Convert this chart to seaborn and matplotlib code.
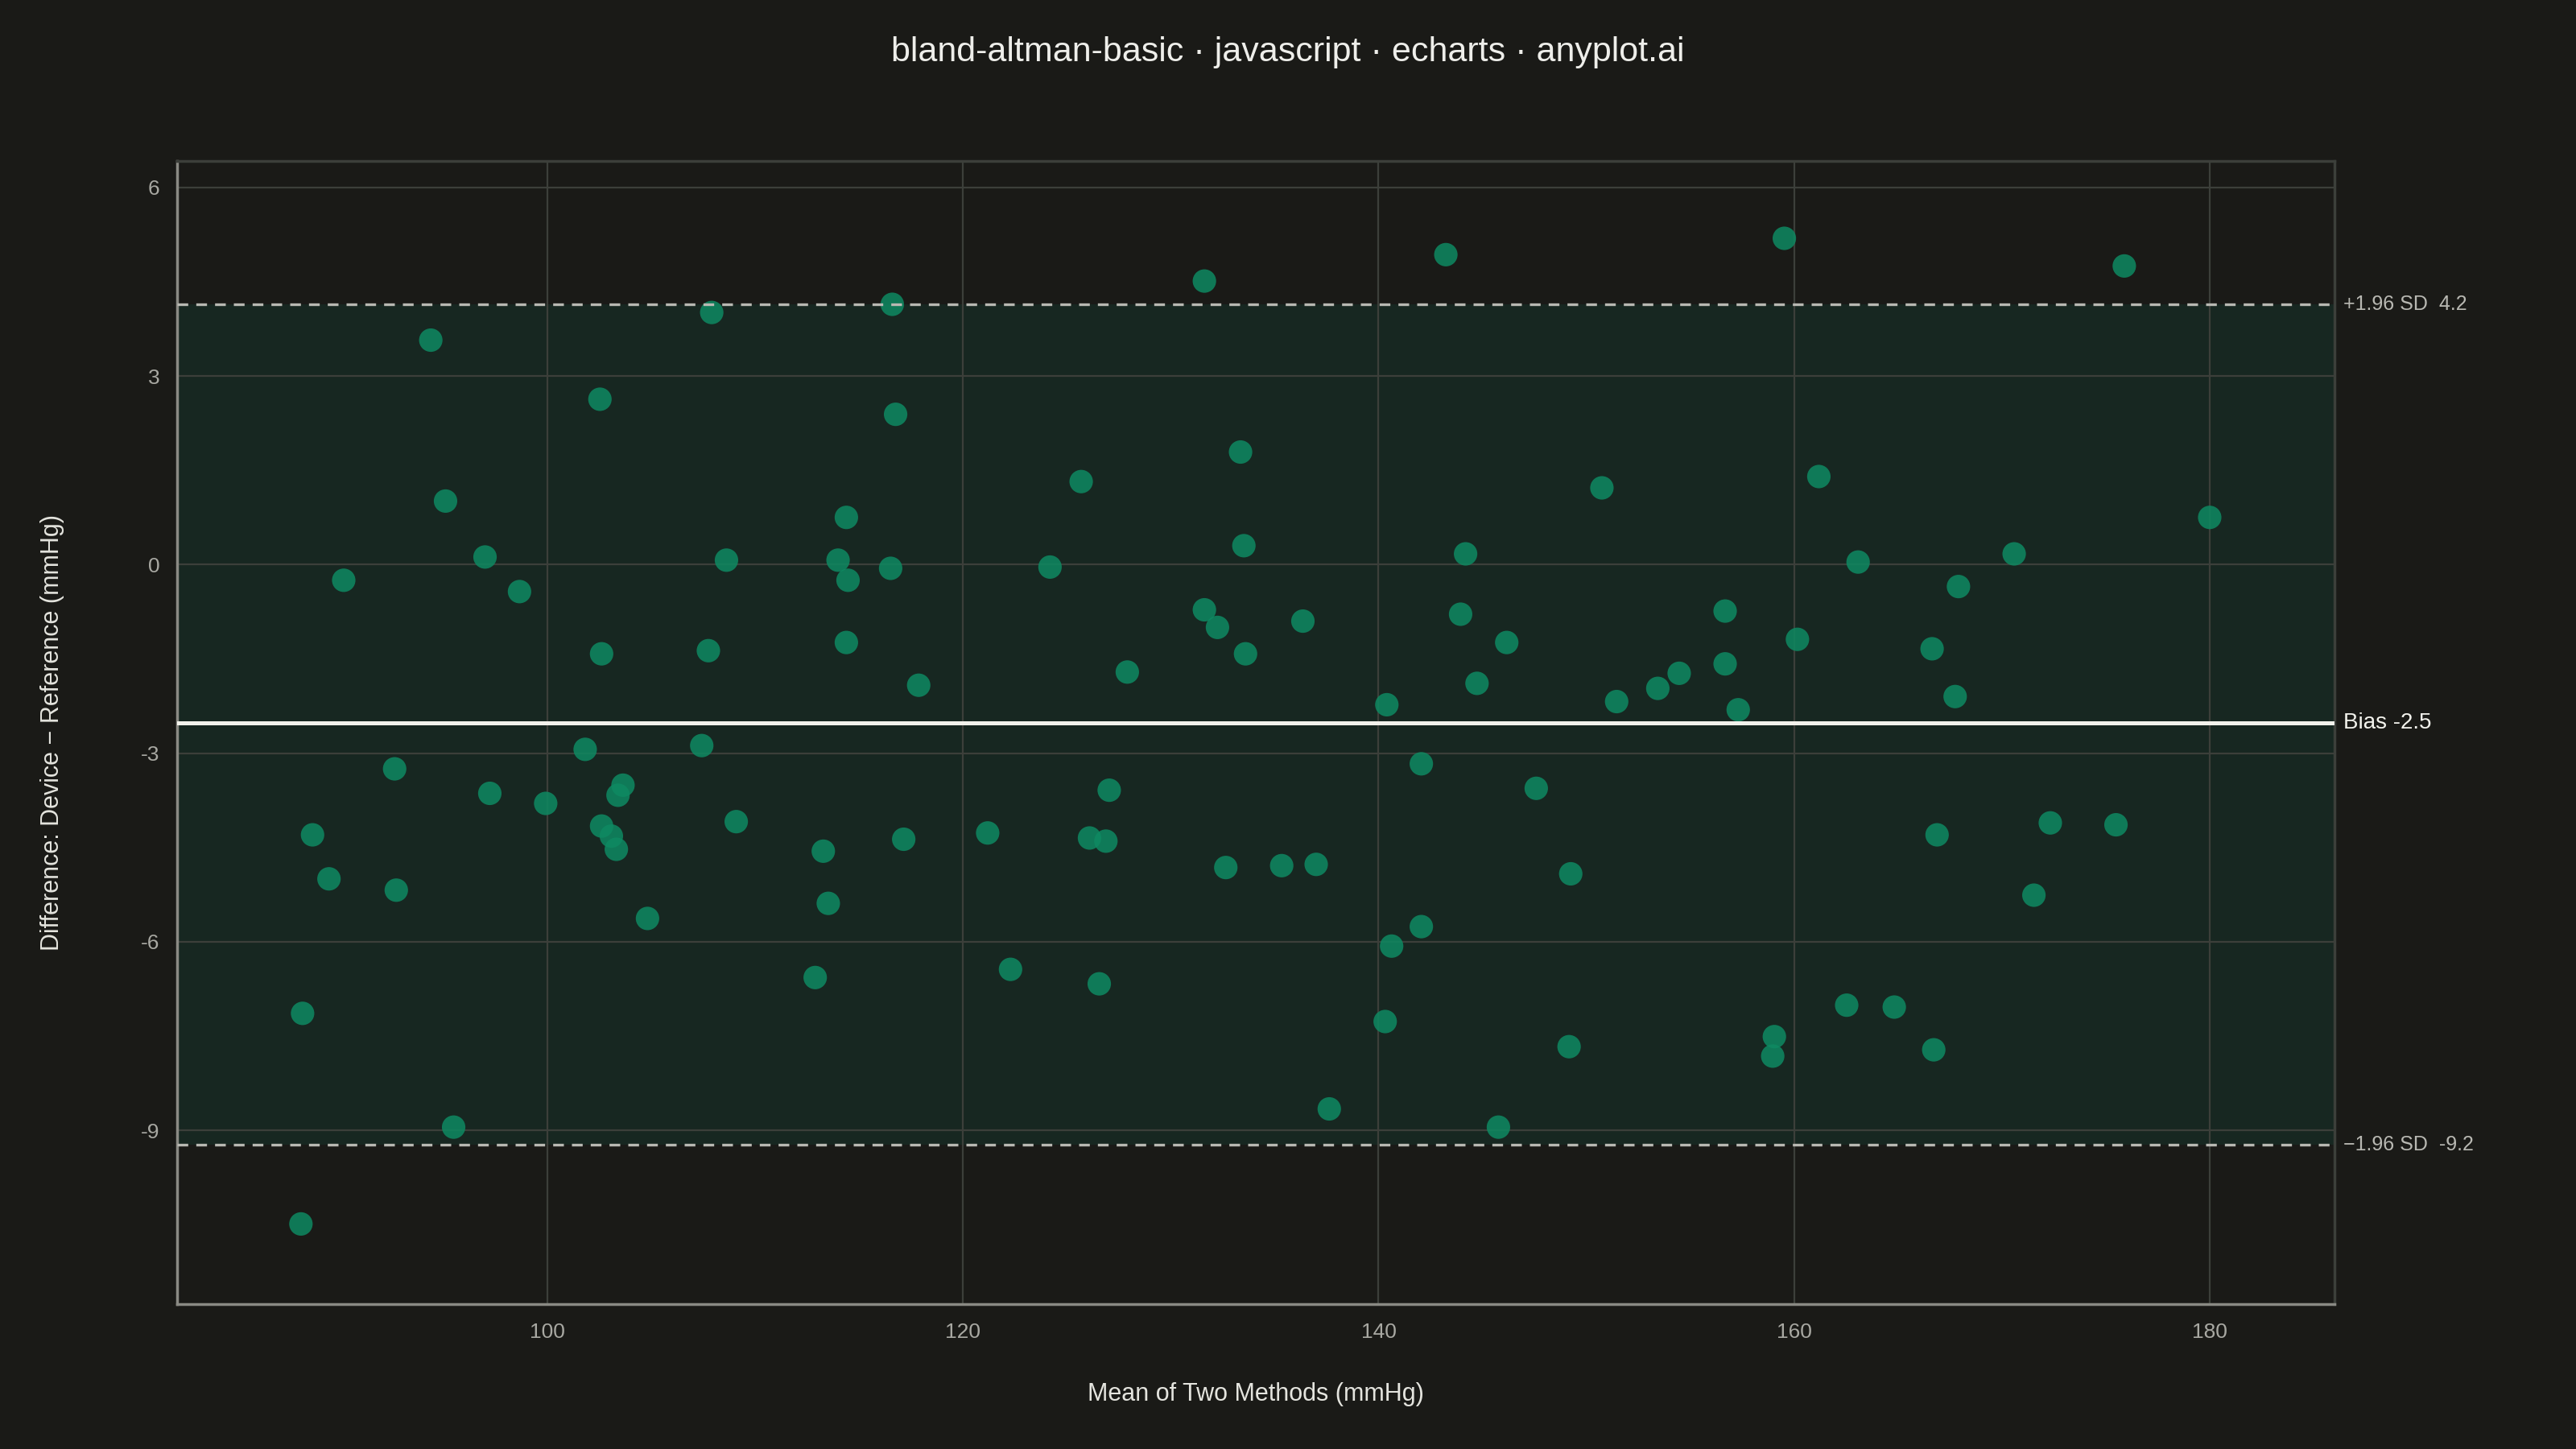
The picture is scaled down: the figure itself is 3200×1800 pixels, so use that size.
import numpy as np
import pandas as pd
import matplotlib
matplotlib.use("Agg")
import matplotlib.pyplot as plt
import seaborn as sns

# mean of both methods (mmHg)
mean_vals = [88.14, 88.22, 88.70, 89.49, 90.20, 92.65, 92.73, 94.39, 95.10, 95.49,
             97.00, 97.23, 98.66, 99.92, 101.82, 102.53, 102.61, 102.61, 103.08, 103.32,
             103.40, 103.64, 104.82, 107.43, 107.75, 107.91, 108.62, 109.09, 112.89, 113.28,
             113.52, 113.99, 114.39, 114.39, 114.47, 116.52, 116.60, 116.76, 117.15, 117.87,
             121.19, 122.29, 124.19, 125.69, 126.09, 126.56, 126.88, 127.04, 127.91, 131.62,
             131.62, 132.25, 132.65, 133.36, 133.52, 133.60, 135.34, 136.36, 137.00, 137.63,
             140.32, 140.40, 140.63, 142.06, 142.06, 143.24, 143.95, 144.19, 144.74, 145.77,
             146.17, 147.59, 149.17, 149.25, 150.75, 151.46, 153.44, 154.47, 156.68, 156.68,
             157.31, 158.97, 159.05, 159.53, 160.16, 161.19, 162.53, 163.08, 164.82, 166.64,
             166.72, 166.88, 167.75, 167.91, 170.59, 171.54, 172.33, 175.49, 175.89, 180.00]
# difference device - reference (mmHg)
diff_vals = [-10.49, -7.14, -4.30, -5.00, -0.25, -3.25, -5.18, 3.57, 1.01, -8.95,
             0.12, -3.64, -0.43, -3.80, -2.94, 2.63, -1.42, -4.16, -4.32, -4.53,
             -3.67, -3.51, -5.63, -2.88, -1.37, 4.01, 0.07, -4.09, -6.57, -4.56,
             -5.39, 0.07, 0.75, -1.24, -0.25, -0.06, 4.14, 2.39, -4.37, -1.92,
             -4.27, -6.44, -0.04, 1.32, -4.35, -6.67, -4.40, -3.59, -1.71, 4.51,
             -0.72, -1.00, -4.82, 1.79, 0.30, -1.42, -4.79, -0.90, -4.77, -8.66,
             -7.27, -2.23, -6.07, -3.17, -5.76, 4.93, -0.79, 0.17, -1.89, -8.95,
             -1.24, -3.56, -7.67, -4.92, 1.22, -2.18, -1.97, -1.73, -0.74, -1.58,
             -2.31, -7.82, -7.51, 5.19, -1.19, 1.40, -7.01, 0.04, -7.04, -1.34,
             -7.72, -4.30, -2.10, -0.35, 0.17, -5.26, -4.11, -4.14, 4.75, 0.75]

bias = -2.52
upper = 4.14
lower = -9.23

bg = "#1a1a17"
fg = "#e4e4de"
df = pd.DataFrame({"mean": mean_vals, "diff": diff_vals})

sns.set_theme(style="dark")
plt.rcParams["font.family"] = ["Liberation Sans", "DejaVu Sans"]
plt.rcParams["axes.unicode_minus"] = False

fig = plt.figure(figsize=(16, 9), dpi=200, facecolor=bg)
ax = fig.add_axes([0.0689, 0.0998, 0.8373, 0.7891])
ax.set_facecolor(bg)

ax.axhspan(lower, upper, color="#15332b", alpha=0.55, zorder=0, lw=0)
ax.grid(True, color="#3c3f3a", lw=0.8, zorder=1)
ax.set_axisbelow(True)

sns.scatterplot(data=df, x="mean", y="diff", ax=ax, s=110, color="#0e8a62",
                alpha=0.85, edgecolor="none", zorder=3)

ax.axhline(bias, color="#f2f2ec", lw=1.8, zorder=4)
ax.axhline(upper, color="#b8b8b2", lw=1.2, ls=(0, (4, 3)), zorder=4)
ax.axhline(lower, color="#b8b8b2", lw=1.2, ls=(0, (4, 3)), zorder=4)

ax.set_xlim(82.2, 186)
ax.set_ylim(-11.77, 6.42)
ax.set_xticks([100, 120, 140, 160, 180])
ax.set_yticks([6, 3, 0, -3, -6, -9])
ax.tick_params(colors="#a8a8a2", labelsize=9.5, length=0, pad=8)

for side in ["top", "right"]:
    ax.spines[side].set_visible(True)
    ax.spines[side].set_color("#3c3f3a")
for side in ["left", "bottom"]:
    ax.spines[side].set_visible(True)
    ax.spines[side].set_color("#8a8a84")

ax.text(1.004, upper, "+1.96 SD  4.2", transform=ax.get_yaxis_transform(),
        color="#b8b8b2", fontsize=9, va="center")
ax.text(1.004, bias, "Bias -2.5", transform=ax.get_yaxis_transform(),
        color="#f2f2ec", fontsize=10, va="center")
ax.text(1.004, lower, "\u22121.96 SD  -9.2", transform=ax.get_yaxis_transform(),
        color="#b8b8b2", fontsize=9, va="center")

ax.set_xlabel("Mean of Two Methods (mmHg)", color=fg, fontsize=11, labelpad=18)
ax.set_ylabel("Difference: Device \u2212 Reference (mmHg)", color=fg, fontsize=11, labelpad=34)
fig.suptitle("bland-altman-basic · javascript · echarts · anyplot.ai",
             color="#eeeeea", fontsize=15.5, y=0.975)

fig.savefig("out.png", dpi=200, facecolor=bg)
